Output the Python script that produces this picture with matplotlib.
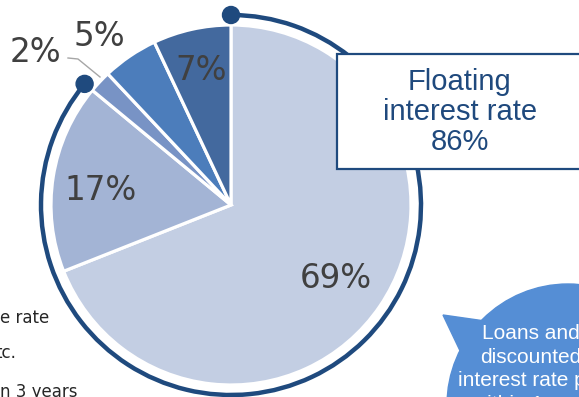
import matplotlib.pyplot as plt
from matplotlib.patches import Arc, Circle, Rectangle, Polygon
import numpy as np

# pie data (clockwise from 12 o'clock)
shares = [69, 17, 2, 5, 7]
share_labels = ["69%", "17%", "2%", "5%", "7%"]
colors = ["#C3CEE3", "#A3B4D5", "#7893C5", "#4C7DBB", "#43699E"]
floating_share = 86          # first two wedges
box_text = "Floating\ninterest rate\n86%"
bubble_text = "Loans and\ndiscounted\ninterest rate per\nwithin 1 year"
side_texts = ["e rate", "tc.", "n 3 years"]

W, H = 579, 397
def Y(y):
    return H - y

fig = plt.figure(figsize=(W / 100, H / 100), dpi=100)
ax = fig.add_axes([0, 0, 1, 1])

cx, cy, r = 231, Y(205), 180
ax.pie(shares, colors=colors, startangle=90, counterclock=False,
       center=(cx, cy), radius=r, frame=True,
       wedgeprops=dict(edgecolor="white", linewidth=2.3))

# labels
lab_pos = [(336, 279), (101, 191), (35, 53), (99, 36), (201, 70)]
for (x, y), t in zip(lab_pos, share_labels):
    ax.text(x, Y(y), t, ha="center", va="center", fontsize=23.5,
            color="#404040", family="DejaVu Sans")
ax.plot([68, 78, 100], [Y(58), Y(59), Y(77)], color="#A6A6A6", lw=1)

# arc around floating part
ra = 190
end_ang = 90 - 360 * floating_share / 100 + 360
ax.add_patch(Arc((cx, cy), 2 * ra, 2 * ra, theta1=end_ang, theta2=450,
                 color="#1F4A7E", lw=3.2, zorder=3))
for a in (90, end_ang):
    ax.add_patch(Circle((cx + ra * np.cos(np.radians(a)), cy + ra * np.sin(np.radians(a))),
                        8.5, color="#1F4A7E", zorder=4))

# box
ax.add_patch(Rectangle((337, Y(169)), 260, 115, facecolor="white",
                       edgecolor="#1F4A7E", lw=1.6, zorder=5))
ax.text(460, Y(112), box_text, ha="center", va="center", fontsize=21,
        color="#1F497D", family="Liberation Sans", linespacing=1.08, zorder=6)

# bubble
bc = "#558ED5"
ax.add_patch(Circle((568, Y(405)), 121, color=bc, zorder=5))
ax.add_patch(Polygon([(443, Y(315)), (492, Y(322)), (463, Y(357))], color=bc, zorder=5))
ax.text(531, Y(369), bubble_text, ha="center", va="center", fontsize=15,
        color="white", family="Liberation Sans", linespacing=1.3, zorder=6)

# cut-off side texts
for (x, y), t in zip([(49, 318), (16, 353), (78, 392)], side_texts):
    ax.text(x, Y(y), t, ha="right", va="center", fontsize=12, color="#262626",
            family="DejaVu Sans")

ax.set_xlim(0, W)
ax.set_ylim(0, H)
ax.set_aspect("equal")
ax.axis("off")
fig.savefig("out.png", dpi=100)
